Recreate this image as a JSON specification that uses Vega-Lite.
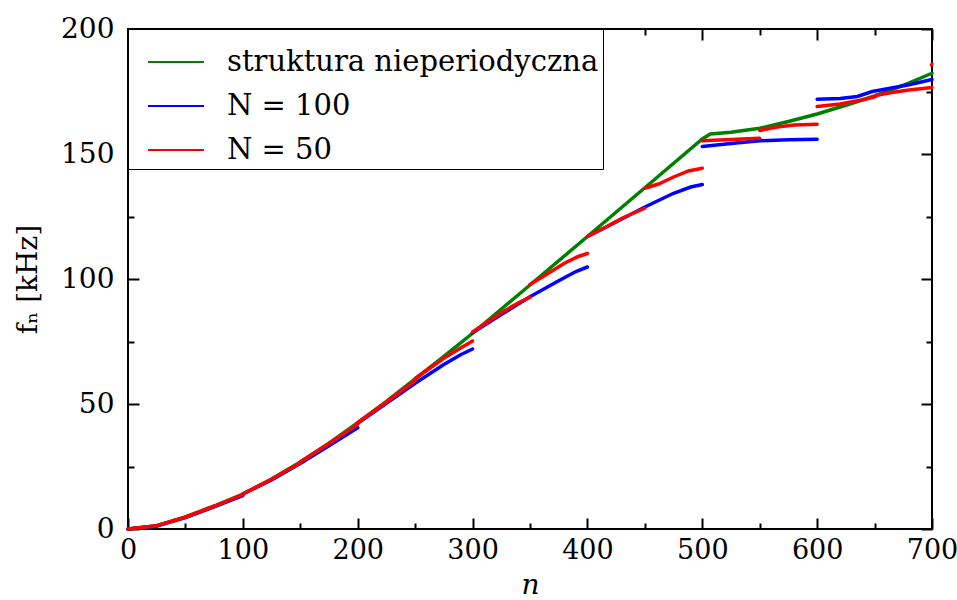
{
  "$schema": "https://vega.github.io/schema/vega-lite/v6.json",
  "width": 804,
  "height": 500,
  "autosize": {"type": "none"},
  "padding": {"left": 128, "top": 29, "right": 25, "bottom": 71},
  "background": "white",
  "config": {
    "view": {"stroke": "black", "strokeWidth": 2},
    "font": "DejaVu Serif",
    "axis": {
      "domain": false,
      "grid": false,
      "tickColor": "black",
      "tickWidth": 2,
      "labelFont": "DejaVu Serif",
      "labelFontSize": 28,
      "labelColor": "black",
      "labelFlush": false,
      "labelOverlap": false,
      "labelBound": false,
      "titleFont": "DejaVu Serif",
      "titleFontSize": 28,
      "titleFontWeight": "normal",
      "titleColor": "black"
    },
    "legend": {
      "labelFont": "DejaVu Serif",
      "labelFontSize": 29,
      "labelColor": "black",
      "labelLimit": 600
    }
  },
  "datasets": {
    "pts": [
      {"n": 0, "f": 0, "series": "struktura nieperiodyczna", "seg": "g"},
      {"n": 25, "f": 1.3, "series": "struktura nieperiodyczna", "seg": "g"},
      {"n": 50, "f": 4.8, "series": "struktura nieperiodyczna", "seg": "g"},
      {"n": 75, "f": 9.2, "series": "struktura nieperiodyczna", "seg": "g"},
      {"n": 100, "f": 14, "series": "struktura nieperiodyczna", "seg": "g"},
      {"n": 125, "f": 20, "series": "struktura nieperiodyczna", "seg": "g"},
      {"n": 150, "f": 26.8, "series": "struktura nieperiodyczna", "seg": "g"},
      {"n": 175, "f": 34.3, "series": "struktura nieperiodyczna", "seg": "g"},
      {"n": 200, "f": 42.5, "series": "struktura nieperiodyczna", "seg": "g"},
      {"n": 225, "f": 51, "series": "struktura nieperiodyczna", "seg": "g"},
      {"n": 250, "f": 60, "series": "struktura nieperiodyczna", "seg": "g"},
      {"n": 275, "f": 69, "series": "struktura nieperiodyczna", "seg": "g"},
      {"n": 300, "f": 78.3, "series": "struktura nieperiodyczna", "seg": "g"},
      {"n": 350, "f": 97.6, "series": "struktura nieperiodyczna", "seg": "g"},
      {"n": 400, "f": 117, "series": "struktura nieperiodyczna", "seg": "g"},
      {"n": 450, "f": 136.5, "series": "struktura nieperiodyczna", "seg": "g"},
      {"n": 500, "f": 156, "series": "struktura nieperiodyczna", "seg": "g"},
      {"n": 507, "f": 158, "series": "struktura nieperiodyczna", "seg": "g"},
      {"n": 525, "f": 158.7, "series": "struktura nieperiodyczna", "seg": "g"},
      {"n": 550, "f": 160.3, "series": "struktura nieperiodyczna", "seg": "g"},
      {"n": 575, "f": 163, "series": "struktura nieperiodyczna", "seg": "g"},
      {"n": 600, "f": 166, "series": "struktura nieperiodyczna", "seg": "g"},
      {"n": 625, "f": 169.5, "series": "struktura nieperiodyczna", "seg": "g"},
      {"n": 650, "f": 173.2, "series": "struktura nieperiodyczna", "seg": "g"},
      {"n": 675, "f": 177.5, "series": "struktura nieperiodyczna", "seg": "g"},
      {"n": 700, "f": 182.3, "series": "struktura nieperiodyczna", "seg": "g"},

      {"n": 0, "f": 0, "series": "N = 100", "seg": "b1"},
      {"n": 25, "f": 1.2, "series": "N = 100", "seg": "b1"},
      {"n": 50, "f": 4.6, "series": "N = 100", "seg": "b1"},
      {"n": 75, "f": 8.9, "series": "N = 100", "seg": "b1"},
      {"n": 100, "f": 13.4, "series": "N = 100", "seg": "b1"},
      {"n": 100, "f": 14, "series": "N = 100", "seg": "b2"},
      {"n": 125, "f": 19.6, "series": "N = 100", "seg": "b2"},
      {"n": 150, "f": 26.2, "series": "N = 100", "seg": "b2"},
      {"n": 175, "f": 33.3, "series": "N = 100", "seg": "b2"},
      {"n": 200, "f": 40.5, "series": "N = 100", "seg": "b2"},
      {"n": 200, "f": 42.3, "series": "N = 100", "seg": "b3"},
      {"n": 225, "f": 50.3, "series": "N = 100", "seg": "b3"},
      {"n": 250, "f": 58.3, "series": "N = 100", "seg": "b3"},
      {"n": 275, "f": 65.8, "series": "N = 100", "seg": "b3"},
      {"n": 290, "f": 69.8, "series": "N = 100", "seg": "b3"},
      {"n": 300, "f": 72, "series": "N = 100", "seg": "b3"},
      {"n": 300, "f": 78.5, "series": "N = 100", "seg": "b4"},
      {"n": 325, "f": 85.8, "series": "N = 100", "seg": "b4"},
      {"n": 350, "f": 92.9, "series": "N = 100", "seg": "b4"},
      {"n": 375, "f": 99.3, "series": "N = 100", "seg": "b4"},
      {"n": 390, "f": 103, "series": "N = 100", "seg": "b4"},
      {"n": 400, "f": 104.8, "series": "N = 100", "seg": "b4"},
      {"n": 400, "f": 117, "series": "N = 100", "seg": "b5"},
      {"n": 425, "f": 122.8, "series": "N = 100", "seg": "b5"},
      {"n": 450, "f": 128.8, "series": "N = 100", "seg": "b5"},
      {"n": 475, "f": 134.3, "series": "N = 100", "seg": "b5"},
      {"n": 490, "f": 136.8, "series": "N = 100", "seg": "b5"},
      {"n": 500, "f": 137.8, "series": "N = 100", "seg": "b5"},
      {"n": 500, "f": 153, "series": "N = 100", "seg": "b6"},
      {"n": 525, "f": 154.2, "series": "N = 100", "seg": "b6"},
      {"n": 550, "f": 155.3, "series": "N = 100", "seg": "b6"},
      {"n": 575, "f": 155.7, "series": "N = 100", "seg": "b6"},
      {"n": 600, "f": 155.9, "series": "N = 100", "seg": "b6"},
      {"n": 600, "f": 171.9, "series": "N = 100", "seg": "b7"},
      {"n": 620, "f": 172.2, "series": "N = 100", "seg": "b7"},
      {"n": 635, "f": 173, "series": "N = 100", "seg": "b7"},
      {"n": 648, "f": 175, "series": "N = 100", "seg": "b7"},
      {"n": 660, "f": 176, "series": "N = 100", "seg": "b7"},
      {"n": 680, "f": 177.7, "series": "N = 100", "seg": "b7"},
      {"n": 700, "f": 179.8, "series": "N = 100", "seg": "b7"},

      {"n": 0, "f": 0, "series": "N = 50", "seg": "r01"},
      {"n": 25, "f": 1.3, "series": "N = 50", "seg": "r01"},
      {"n": 50, "f": 4.7, "series": "N = 50", "seg": "r01"},
      {"n": 50, "f": 4.8, "series": "N = 50", "seg": "r02"},
      {"n": 75, "f": 9.1, "series": "N = 50", "seg": "r02"},
      {"n": 100, "f": 13.8, "series": "N = 50", "seg": "r02"},
      {"n": 100, "f": 14, "series": "N = 50", "seg": "r03"},
      {"n": 125, "f": 19.9, "series": "N = 50", "seg": "r03"},
      {"n": 150, "f": 26.5, "series": "N = 50", "seg": "r03"},
      {"n": 150, "f": 26.8, "series": "N = 50", "seg": "r04"},
      {"n": 175, "f": 34.2, "series": "N = 50", "seg": "r04"},
      {"n": 200, "f": 41.9, "series": "N = 50", "seg": "r04"},
      {"n": 200, "f": 42.5, "series": "N = 50", "seg": "r05"},
      {"n": 225, "f": 50.8, "series": "N = 50", "seg": "r05"},
      {"n": 250, "f": 59.3, "series": "N = 50", "seg": "r05"},
      {"n": 250, "f": 60.2, "series": "N = 50", "seg": "r06"},
      {"n": 275, "f": 68.3, "series": "N = 50", "seg": "r06"},
      {"n": 290, "f": 72.5, "series": "N = 50", "seg": "r06"},
      {"n": 300, "f": 75.2, "series": "N = 50", "seg": "r06"},
      {"n": 300, "f": 78.8, "series": "N = 50", "seg": "r07"},
      {"n": 325, "f": 86.5, "series": "N = 50", "seg": "r07"},
      {"n": 340, "f": 90.5, "series": "N = 50", "seg": "r07"},
      {"n": 350, "f": 92.7, "series": "N = 50", "seg": "r07"},
      {"n": 350, "f": 97.8, "series": "N = 50", "seg": "r08"},
      {"n": 365, "f": 102, "series": "N = 50", "seg": "r08"},
      {"n": 380, "f": 106.3, "series": "N = 50", "seg": "r08"},
      {"n": 392, "f": 109, "series": "N = 50", "seg": "r08"},
      {"n": 400, "f": 110.2, "series": "N = 50", "seg": "r08"},
      {"n": 400, "f": 117, "series": "N = 50", "seg": "r09"},
      {"n": 415, "f": 120.5, "series": "N = 50", "seg": "r09"},
      {"n": 430, "f": 124.3, "series": "N = 50", "seg": "r09"},
      {"n": 450, "f": 128.3, "series": "N = 50", "seg": "r09"},
      {"n": 450, "f": 136.3, "series": "N = 50", "seg": "r10"},
      {"n": 462, "f": 138, "series": "N = 50", "seg": "r10"},
      {"n": 475, "f": 140.8, "series": "N = 50", "seg": "r10"},
      {"n": 488, "f": 143.2, "series": "N = 50", "seg": "r10"},
      {"n": 500, "f": 144.3, "series": "N = 50", "seg": "r10"},
      {"n": 500, "f": 155.3, "series": "N = 50", "seg": "r11"},
      {"n": 525, "f": 155.8, "series": "N = 50", "seg": "r11"},
      {"n": 550, "f": 156.3, "series": "N = 50", "seg": "r11"},
      {"n": 550, "f": 159.4, "series": "N = 50", "seg": "r12"},
      {"n": 565, "f": 160.8, "series": "N = 50", "seg": "r12"},
      {"n": 580, "f": 161.6, "series": "N = 50", "seg": "r12"},
      {"n": 600, "f": 161.9, "series": "N = 50", "seg": "r12"},
      {"n": 600, "f": 169, "series": "N = 50", "seg": "r13"},
      {"n": 620, "f": 170, "series": "N = 50", "seg": "r13"},
      {"n": 640, "f": 171.7, "series": "N = 50", "seg": "r13"},
      {"n": 651, "f": 173, "series": "N = 50", "seg": "r13"},
      {"n": 651, "f": 173.4, "series": "N = 50", "seg": "r14"},
      {"n": 665, "f": 174.6, "series": "N = 50", "seg": "r14"},
      {"n": 680, "f": 175.6, "series": "N = 50", "seg": "r14"},
      {"n": 700, "f": 176.6, "series": "N = 50", "seg": "r14"},
      {"n": 699.5, "f": 185.6, "series": "N = 50", "seg": "r15"},
      {"n": 700, "f": 186, "series": "N = 50", "seg": "r15"}
    ]
  },
  "data": {"name": "pts"},
  "layer": [
    {
      "transform": [{"filter": "datum.series === 'struktura nieperiodyczna'"}],
      "mark": {"type": "line", "strokeWidth": 3.5, "strokeCap": "round"},
      "encoding": {
        "x": {
          "field": "n", "type": "quantitative",
          "scale": {"domain": [0, 700], "nice": false, "zero": false},
          "axis": {
            "orient": "bottom",
            "values": [0, 50, 100, 150, 200, 250, 300, 350, 400, 450, 500, 550, 600, 650, 700],
            "tickSize": {"condition": {"test": "datum.value % 100 === 0", "value": -11}, "value": -6},
            "labelExpr": "datum.value % 100 === 0 ? datum.label : ''",
            "labelFontSize": 27,
            "labelPadding": 19,
            "title": "n",
            "titleFontStyle": "italic",
            "titleFontSize": 28,
            "titlePadding": 3
          }
        },
        "y": {
          "field": "f", "type": "quantitative",
          "scale": {"domain": [0, 200], "nice": false, "zero": false},
          "axis": {
            "orient": "left",
            "values": [0, 25, 50, 75, 100, 125, 150, 175, 200],
            "tickSize": {"condition": {"test": "datum.value % 50 === 0", "value": -11}, "value": -6},
            "labelExpr": "datum.value % 50 === 0 ? datum.label : ''",
            "labelPadding": 25,
            "title": "fₙ [kHz]",
            "titlePadding": 18
          }
        },
        "color": {
          "field": "series", "type": "nominal",
          "scale": {
            "domain": ["struktura nieperiodyczna", "N = 100", "N = 50"],
            "range": ["#008000", "#0000ff", "#ff0000"]
          },
          "legend": {
            "orient": "top-left",
            "offset": 0,
            "title": null,
            "symbolType": "stroke",
            "symbolSize": 3136,
            "symbolStrokeWidth": 2,
            "symbolOffset": 15,
            "labelOffset": 22,
            "rowPadding": 0,
            "padding": 4,
            "strokeColor": "black",
            "fillColor": "white",
            "cornerRadius": 0
          }
        },
        "detail": {"field": "seg"}
      }
    },
    {
      "transform": [{"filter": "datum.series !== 'struktura nieperiodyczna'"}],
      "mark": {"type": "line", "strokeWidth": 3.5, "strokeCap": "round"},
      "encoding": {
        "x": {
          "field": "n", "type": "quantitative",
          "scale": {"domain": [0, 700], "nice": false, "zero": false},
          "axis": {
            "orient": "top",
            "values": [0, 50, 100, 150, 200, 250, 300, 350, 400, 450, 500, 550, 600, 650, 700],
            "tickSize": {"condition": {"test": "datum.value % 100 === 0", "value": -11}, "value": -6},
            "labels": false,
            "title": null
          }
        },
        "y": {
          "field": "f", "type": "quantitative",
          "scale": {"domain": [0, 200], "nice": false, "zero": false},
          "axis": {
            "orient": "right",
            "values": [0, 25, 50, 75, 100, 125, 150, 175, 200],
            "tickSize": {"condition": {"test": "datum.value % 50 === 0", "value": -11}, "value": -6},
            "labels": false,
            "title": null
          }
        },
        "color": {
          "field": "series", "type": "nominal",
          "scale": {
            "domain": ["struktura nieperiodyczna", "N = 100", "N = 50"],
            "range": ["#008000", "#0000ff", "#ff0000"]
          }
        },
        "detail": {"field": "seg"}
      }
    }
  ],
  "resolve": {"axis": {"x": "independent", "y": "independent"}}
}
